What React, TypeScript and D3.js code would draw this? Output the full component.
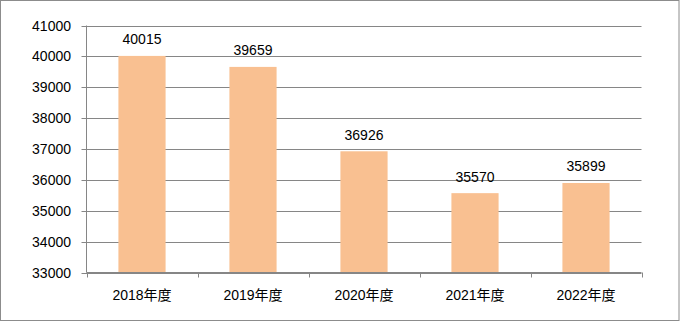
import React from "react";
import * as d3 from "d3";

const categories = ["2018年度", "2019年度", "2020年度", "2021年度", "2022年度"];
const values = [40015, 39659, 36926, 35570, 35899];
const yTicks = [33000, 34000, 35000, 36000, 37000, 38000, 39000, 40000, 41000];

export default function App() {
  const W = 680, H = 322;
  const left = 86.5, right = 641.5, top = 25.5, bottom = 272.5;
  const x = d3.scaleBand().domain(categories).range([left, right]).paddingInner(0.575).paddingOuter(0.2875);
  const y = d3.scaleLinear().domain([33000, 41000]).range([bottom, top]);
  const step = (right - left) / categories.length;
  const font = "'Liberation Sans', 'Noto Sans CJK SC', sans-serif";
  return (
    <svg width={W} height={H} style={{ position: "absolute", left: 0, top: 0 }} fontFamily={font}>
      <rect x={0.5} y={0.5} width={W - 1.5} height={H - 2} fill="#fff" stroke="#8c8c8c" />
      {yTicks.map((t) => (
        <g key={t}>
          <line x1={left - 5} x2={right} y1={Math.round(y(t)) + 0.5} y2={Math.round(y(t)) + 0.5} stroke="#868686" />
          <text x={71} y={y(t) + 5} textAnchor="end" fontSize={14} fill="#000">{t}</text>
        </g>
      ))}
      {categories.map((c, i) => (
        <rect key={c} x={x(c)!} y={y(values[i])} width={x.bandwidth()} height={bottom - y(values[i])} fill="#F9C091" />
      ))}
      <line x1={left} x2={left} y1={top} y2={bottom} stroke="#868686" />
      <line x1={left} x2={right} y1={bottom} y2={bottom} stroke="#868686" />
      {d3.range(categories.length + 1).map((i) => (
        <line key={i} x1={Math.round(left + i * step) + 0.5} x2={Math.round(left + i * step) + 0.5} y1={bottom} y2={bottom + 5} stroke="#868686" />
      ))}
      {categories.map((c, i) => (
        <g key={c}>
          <text x={x(c)! + x.bandwidth() / 2} y={y(values[i]) - 11.5} textAnchor="middle" fontSize={14} fill="#000">{values[i]}</text>
          <text x={x(c)! + x.bandwidth() / 2} y={300} textAnchor="middle" fontSize={14} fill="#000">{c}</text>
        </g>
      ))}
    </svg>
  );
}
